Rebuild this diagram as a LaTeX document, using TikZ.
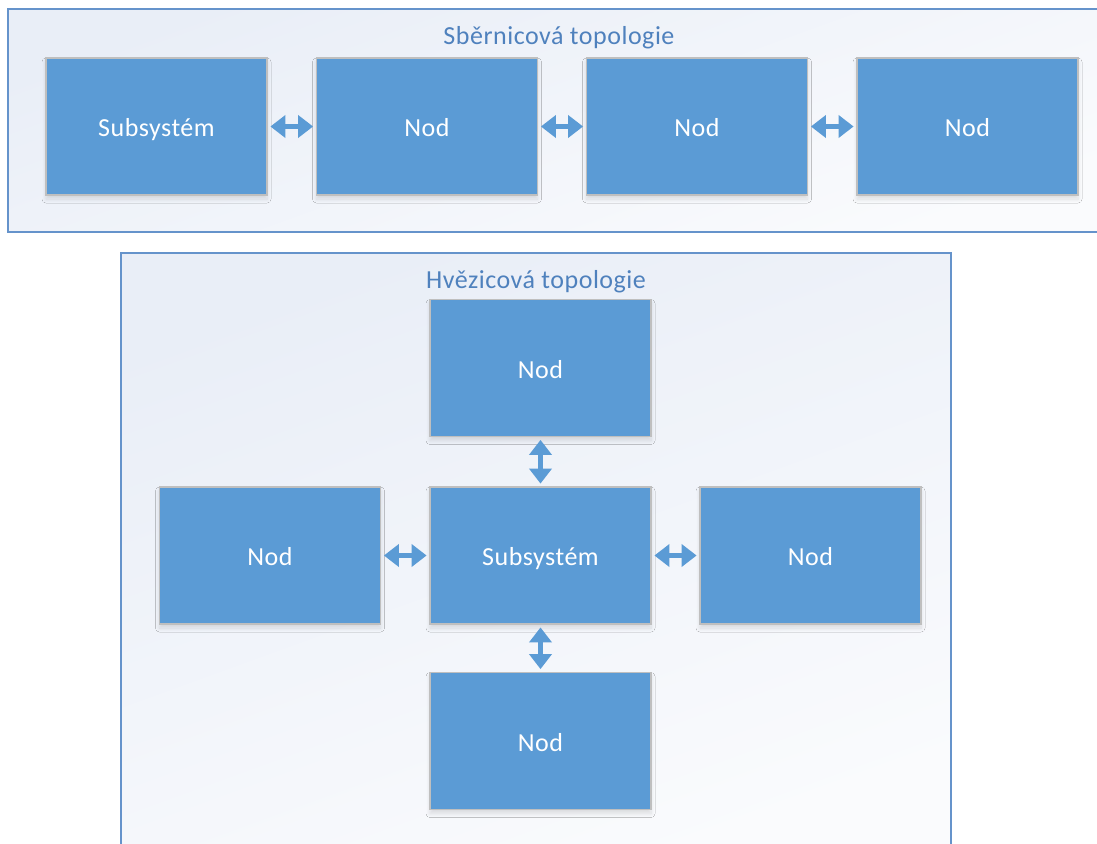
\documentclass[tikz,border=0pt]{standalone}
\usepackage{fontspec}
\setmainfont{Carlito}[LetterSpace=2]
\usetikzlibrary{arrows.meta,shadows.blur}
\definecolor{boxblue}{HTML}{5B9BD5}
\definecolor{boxedge}{HTML}{BFBFBF}
\definecolor{frameedge}{HTML}{6593CB}
\definecolor{titleblue}{HTML}{4F81BD}
\definecolor{paneltop}{HTML}{E9EEF7}
\definecolor{panelbot}{HTML}{FAFBFD}
\tikzset{
  panel/.style={draw=frameedge, line width=2pt, top color=paneltop, bottom color=panelbot, shading angle=20},
  paneltitle/.style={text=titleblue, font=\fontsize{26}{30}\selectfont},
  unit/.style={draw=boxedge, line width=1.8pt, fill=boxblue, minimum width=221pt, minimum height=137pt,
    inner sep=0pt, text=white, font=\fontsize{26}{30}\selectfont, text height=21pt, text depth=1pt,
    blur shadow={shadow xshift=0pt, shadow yshift=-4pt, shadow blur radius=4pt, shadow opacity=12, shadow blur steps=8}},
  link/.style={draw=boxblue, line width=5pt, {Triangle[length=15pt,width=22pt]}-{Triangle[length=15pt,width=22pt]},
    shorten <=2.5pt, shorten >=2.5pt}
}
\begin{document}
\begin{tikzpicture}[x=1pt, y=-1pt]
\useasboundingbox (0,0) rectangle (1097,843);
\clip (0,0) rectangle (1097,843);
% bus topology panel
\path[panel] (8,9) rectangle (1110,232);
\node[paneltitle] (bustitle) at (559,38) {Sběrnicová topologie};
\node[unit] (b1) at (156.5,126.5) {Subsystém};
\node[unit] (b2) at (427,126.5) {Nod};
\node[unit] (b3) at (697,126.5) {Nod};
\node[unit] (b4) at (967.5,126.5) {Nod};
\draw[link] (b1.east) -- (b2.west);
\draw[link] (b2.east) -- (b3.west);
\draw[link] (b3.east) -- (b4.west);
% star topology panel
\path[panel] (121,253) rectangle (951,860);
\node[paneltitle] (startitle) at (536,282) {Hvězicová topologie};
\node[unit] (sc) at (540.5,555.5) {Subsystém};
\node[unit] (st) at (540.5,368) {Nod};
\node[unit] (sb) at (540.5,741) {Nod};
\node[unit] (sl) at (270,555.5) {Nod};
\node[unit] (sr) at (810.5,555.5) {Nod};
\draw[link] (st.south) -- (sc.north);
\draw[link] (sc.south) -- (sb.north);
\draw[link] (sl.east) -- (sc.west);
\draw[link] (sc.east) -- (sr.west);
\end{tikzpicture}
\end{document}
